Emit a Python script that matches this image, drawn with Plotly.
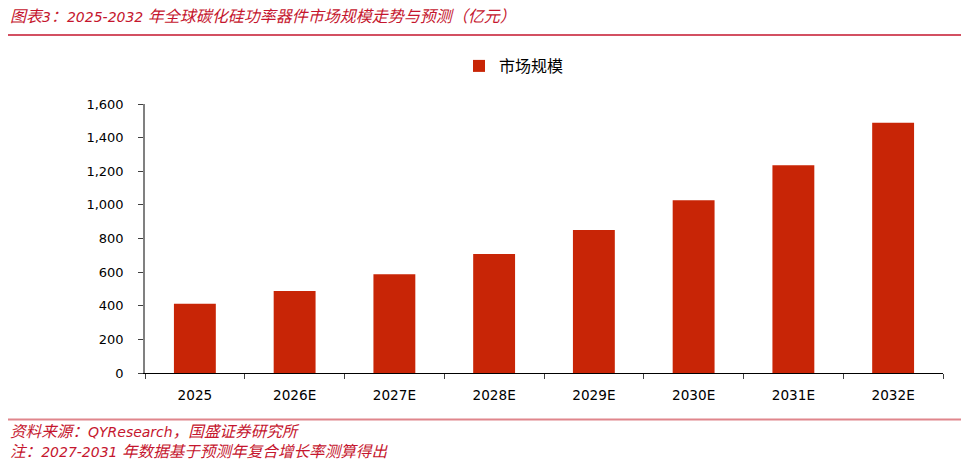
import re
import plotly.graph_objects as go

# Data
years = ['2025', '2026E', '2027E', '2028E', '2029E', '2030E', '2031E', '2032E']
market_size = [412, 487, 588, 708, 851, 1027, 1236, 1488]
series_name = '市场规模'

y_ticks = [0, 200, 400, 600, 800, 1000, 1200, 1400, 1600]

title_text = '图表3：2025-2032 年全球碳化硅功率器件市场规模走势与预测（亿元）'
source_text = '资料来源：QYResearch，国盛证券研究所'
note_text = '注：2027-2031 年数据基于预测年复合增长率测算得出'

bar_color = '#C82506'
red = '#C5162E'
font_family = 'DejaVu Sans, Noto Sans CJK SC, sans-serif'
cjk_family = 'Noto Sans CJK SC, DejaVu Sans, sans-serif'

# page has an 8px body margin, so layout is placed in page pixels minus 8
OFF = 8
L, R, T, B = 145 - OFF, 969 - (943 - OFF), 104 - OFF, 475 - (373 - OFF)
W = 969 - L - R
H = 475 - T - B


def px_x(x):
    return (x - OFF - L) / W


def px_y(y):
    return (475 - B - (y - OFF)) / H


def big_cjk(s, size):
    # CJK glyphs are set a little larger than the latin text in the original
    return re.sub(r'([\u3000-\u9fff\uff00-\uffef]+)',
                  r'<span style="font-size:%spx">\1</span>' % size, s)


fig = go.Figure()

fig.add_trace(go.Bar(
    x=years,
    y=market_size,
    name=series_name,
    marker=dict(color=bar_color, line=dict(width=0)),
    width=0.42,
))

fig.update_xaxes(
    type='category',
    showline=True, linecolor='#000000', linewidth=1,
    ticks='outside', tickson='boundaries', ticklen=5, tickcolor='#404040',
    tickfont=dict(family=font_family, size=13.6, color='#000000'),
    showgrid=False, zeroline=False,
    ticklabelstandoff=10,
)

fig.update_yaxes(
    range=[0, 1600],
    tickvals=y_ticks,
    tickformat=',d',
    showline=True, linecolor='#808080', linewidth=1.5,
    ticks='outside', ticklen=5, tickcolor='#404040',
    tickfont=dict(family=font_family, size=13, color='#000000'),
    showgrid=False, zeroline=False,
    ticklabelstandoff=12,
)

# title, notes
fig.add_annotation(
    text=big_cjk(title_text, 16), xref='paper', yref='paper',
    x=px_x(8), y=px_y(17), xanchor='left', yanchor='middle',
    showarrow=False,
    font=dict(family=font_family, size=14, color=red, style='italic'),
)
fig.add_annotation(
    text=big_cjk(source_text, 15.6), xref='paper', yref='paper',
    x=px_x(8), y=px_y(432), xanchor='left', yanchor='middle',
    showarrow=False,
    font=dict(family=font_family, size=14, color=red, style='italic'),
)
fig.add_annotation(
    text=big_cjk(note_text, 15.6), xref='paper', yref='paper',
    x=px_x(8), y=px_y(452), xanchor='left', yanchor='middle',
    showarrow=False,
    font=dict(family=font_family, size=14, color=red, style='italic'),
)

# separator lines
fig.add_shape(type='line', xref='paper', yref='paper',
              x0=px_x(OFF), x1=px_x(969), y0=px_y(35), y1=px_y(35),
              line=dict(color=red, width=1.5))
fig.add_shape(type='line', xref='paper', yref='paper',
              x0=px_x(OFF), x1=px_x(969), y0=px_y(419.5), y1=px_y(419.5),
              line=dict(color='#E0868C', width=2))

fig.update_layout(
    width=969, height=475,
    margin=dict(l=L, r=R, t=T, b=B),
    plot_bgcolor='white', paper_bgcolor='white',
    showlegend=True,
    legend=dict(
        x=px_x(459), y=px_y(66), xanchor='left', yanchor='middle',
        font=dict(family=cjk_family, size=16, color='#000000'),
        bgcolor='rgba(0,0,0,0)', borderwidth=0,
    ),
    font=dict(family=font_family),
)

fig.write_html('out.html')
